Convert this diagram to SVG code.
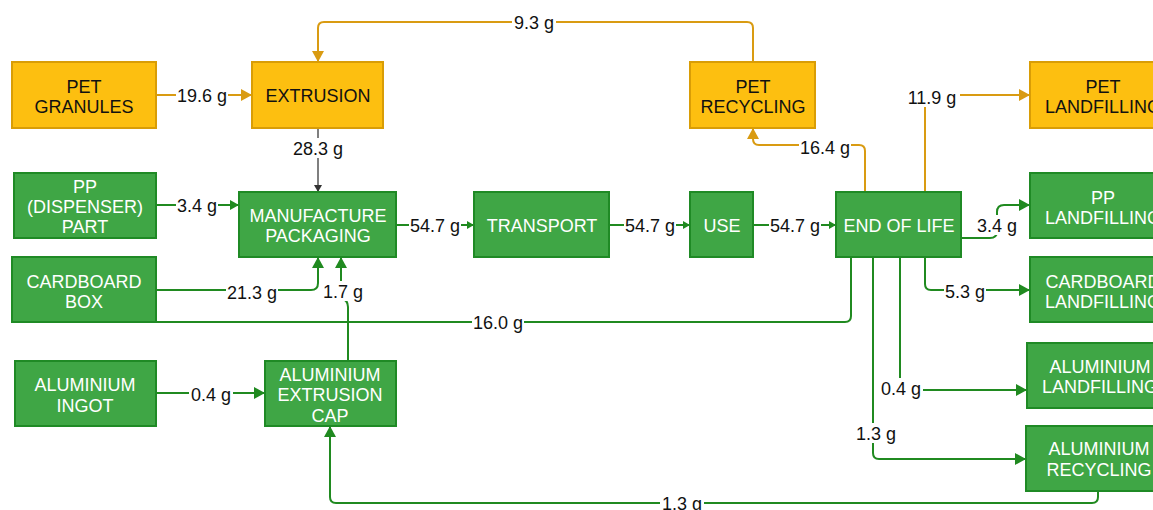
<svg xmlns="http://www.w3.org/2000/svg" width="1153" height="510" viewBox="0 0 1153 510">
<style>
.o rect{fill:#fdbf10;stroke:#d99d06;stroke-width:2}
.g rect{fill:#3fa645;stroke:#1f8a25;stroke-width:2}
.o text{fill:#111;font-family:"Liberation Sans",Arial,sans-serif;font-size:18px;text-anchor:middle}
.g text{fill:#fff;font-family:"Liberation Sans",Arial,sans-serif;font-size:18px;text-anchor:middle}
.co{fill:none;stroke:#d99b12;stroke-width:2}
.cg{fill:none;stroke:#208a20;stroke-width:2}
.ck{fill:none;stroke:#555;stroke-width:1.5}
.lb rect{fill:#fff}
.lb text{fill:#111;font-family:"Liberation Sans",Arial,sans-serif;font-size:18px;text-anchor:middle}
</style>
<defs>
<marker id="ao" markerUnits="userSpaceOnUse" markerWidth="12" markerHeight="12" refX="11" refY="6" orient="auto"><path d="M0,0L11,6L0,12z" fill="#d99b12"/></marker>
<marker id="ag" markerUnits="userSpaceOnUse" markerWidth="12" markerHeight="12" refX="11" refY="6" orient="auto"><path d="M0,0L11,6L0,12z" fill="#208a20"/></marker>
<marker id="am" markerUnits="userSpaceOnUse" markerWidth="10" markerHeight="12" refX="9" refY="6" orient="auto"><path d="M0,1L9,6L0,11z" fill="#208a20"/></marker>
<marker id="as" markerUnits="userSpaceOnUse" markerWidth="8" markerHeight="10" refX="7" refY="5" orient="auto"><path d="M0,1L7,5L0,9z" fill="#208a20"/></marker>
<marker id="ak" markerUnits="userSpaceOnUse" markerWidth="8" markerHeight="10" refX="7" refY="5" orient="auto"><path d="M0,1L7,5L0,9z" fill="#333"/></marker>
</defs>
<rect width="1153" height="510" fill="#fff"/>
<g id="connectors">
<path class="co" d="M156,95H252" marker-end="url(#ao)"/>
<path class="co" d="M753,62V28Q753,22 747,22H324Q318,22 318,28V62" marker-end="url(#ao)"/>
<path class="ck" d="M318,128V192" marker-end="url(#ak)"/>
<path class="cg" d="M156,205H239" marker-end="url(#am)"/>
<path class="cg" d="M156,290H311Q318,290 318,283V257" marker-end="url(#ag)"/>
<path class="cg" d="M348,361V307Q348,300 341,298V257" marker-end="url(#ag)"/>
<path class="cg" d="M396,225H474" marker-end="url(#as)"/>
<path class="cg" d="M609,225H690" marker-end="url(#as)"/>
<path class="cg" d="M753,225H836" marker-end="url(#as)"/>
<path class="co" d="M865,192V151Q865,145 859,145H759Q753,145 753,139V128" marker-end="url(#ao)"/>
<path class="co" d="M925,192V101Q925,95 931,95H1030" marker-end="url(#ao)"/>
<path class="cg" d="M961,238H990Q997,238 997,231V212Q997,205 1004,205H1030" marker-end="url(#ag)"/>
<path class="cg" d="M925,257V284Q925,290 931,290H1030" marker-end="url(#ag)"/>
<path class="cg" d="M851,257V316Q851,322 845,322H84"/>
<path d="M78,308H90L84,319z" fill="#208a20"/>
<path class="cg" d="M900,257V384Q900,390 906,390H1027" marker-end="url(#ag)"/>
<path class="cg" d="M873,257V453Q873,459 879,459H1026" marker-end="url(#ag)"/>
<path class="cg" d="M1098,491V497Q1098,503 1092,503H336Q330,503 330,497V426" marker-end="url(#ag)"/>
<path class="cg" d="M156,393H265" marker-end="url(#ag)"/>
<g class="lb">
<rect x="176" y="85" width="52" height="20"/><text x="202" y="101.5">19.6 g</text>
<rect x="512" y="12" width="44" height="20"/><text x="534" y="28.5">9.3 g</text>
<rect x="292" y="138" width="52" height="20"/><text x="318" y="154.5">28.3 g</text>
<rect x="176" y="195" width="42" height="20"/><text x="197" y="211.5">3.4 g</text>
<rect x="226" y="282" width="52" height="20"/><text x="252" y="298.5">21.3 g</text>
<rect x="322" y="281" width="42" height="20"/><text x="343" y="297.5">1.7 g</text>
<rect x="409" y="215" width="52" height="20"/><text x="435" y="231.5">54.7 g</text>
<rect x="624" y="215" width="52" height="20"/><text x="650" y="231.5">54.7 g</text>
<rect x="769" y="215" width="52" height="20"/><text x="795" y="231.5">54.7 g</text>
<rect x="799" y="137" width="52" height="20"/><text x="825" y="153.5">16.4 g</text>
<rect x="906" y="87" width="54" height="20"/><text x="932" y="103.5">11.9 g</text>
<rect x="976" y="215" width="42" height="20"/><text x="997" y="231.5">3.4 g</text>
<rect x="944" y="281" width="42" height="20"/><text x="965" y="297.5">5.3 g</text>
<rect x="472" y="312" width="52" height="20"/><text x="498" y="328.5">16.0 g</text>
<rect x="879" y="378" width="44" height="20"/><text x="901" y="394.5">0.4 g</text>
<rect x="855" y="423" width="42" height="20"/><text x="876" y="439.5">1.3 g</text>
<rect x="660" y="493" width="44" height="20"/><text x="682" y="509.5">1.3 g</text>
<rect x="189" y="384" width="44" height="20"/><text x="211" y="400.5">0.4 g</text>
</g>
</g>
<g id="pet-granules" class="o"><rect x="12" y="62" width="144" height="66"/><text x="84" y="92.5">PET</text><text x="84" y="112.5">GRANULES</text></g>
<g id="extrusion" class="o"><rect x="252" y="62" width="131" height="66"/><text x="318" y="102">EXTRUSION</text></g>
<g id="pet-recycling" class="o"><rect x="690" y="62" width="125" height="66"/><text x="753" y="92.5">PET</text><text x="753" y="112.5">RECYCLING</text></g>
<g id="pet-landfilling" class="o"><rect x="1030" y="62" width="146" height="66"/><text x="1103" y="92.5">PET</text><text x="1103" y="112.5">LANDFILLING</text></g>
<g id="pp-part" class="g"><rect x="14" y="173" width="142" height="65"/><text x="85" y="193">PP</text><text x="85" y="213">(DISPENSER)</text><text x="85" y="233">PART</text></g>
<g id="manufacture" class="g"><rect x="239" y="192" width="157" height="65"/><text x="318" y="222">MANUFACTURE</text><text x="318" y="242">PACKAGING</text></g>
<g id="transport" class="g"><rect x="474" y="192" width="135" height="65"/><text x="542" y="232">TRANSPORT</text></g>
<g id="use" class="g"><rect x="690" y="192" width="63" height="65"/><text x="722" y="232">USE</text></g>
<g id="end-of-life" class="g"><rect x="836" y="192" width="125" height="65"/><text x="899" y="232">END OF LIFE</text></g>
<g id="pp-landfilling" class="g"><rect x="1030" y="173" width="146" height="65"/><text x="1103" y="204">PP</text><text x="1103" y="224">LANDFILLING</text></g>
<g id="cardboard-box" class="g"><rect x="12" y="257" width="144" height="65"/><text x="84" y="288">CARDBOARD</text><text x="84" y="308">BOX</text></g>
<g id="cardboard-landfilling" class="g"><rect x="1030" y="257" width="146" height="65"/><text x="1103" y="288">CARDBOARD</text><text x="1103" y="308">LANDFILLING</text></g>
<g id="aluminium-ingot" class="g"><rect x="15" y="361" width="141" height="65"/><text x="85" y="391">ALUMINIUM</text><text x="85" y="412">INGOT</text></g>
<g id="aluminium-cap" class="g"><rect x="265" y="361" width="131" height="65"/><text x="330" y="381">ALUMINIUM</text><text x="330" y="401">EXTRUSION</text><text x="330" y="422">CAP</text></g>
<g id="aluminium-landfilling" class="g"><rect x="1027" y="343" width="146" height="65"/><text x="1100" y="373">ALUMINIUM</text><text x="1100" y="393">LANDFILLING</text></g>
<g id="aluminium-recycling" class="g"><rect x="1026" y="426" width="146" height="65"/><text x="1099" y="455">ALUMINIUM</text><text x="1099" y="476">RECYCLING</text></g>
</svg>
